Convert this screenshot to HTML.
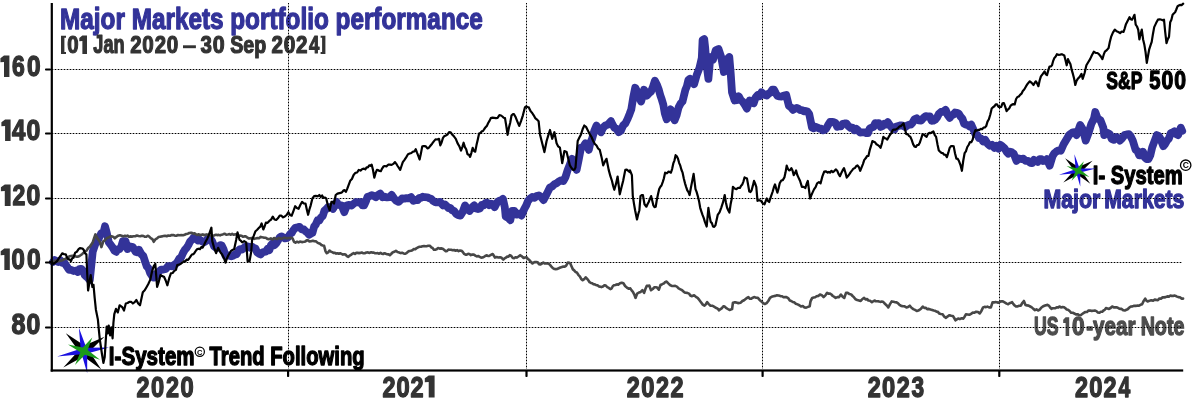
<!DOCTYPE html>
<html><head><meta charset="utf-8"><style>
html,body{margin:0;padding:0;background:#fff;width:1193px;height:406px;overflow:hidden}
svg{display:block} svg{will-change:transform}
</style></head><body><svg width="1193" height="406" viewBox="0 0 1193 406"><rect x="0" y="0" width="1193" height="406" fill="#fff"/><line x1="52" y1="69.5" x2="1182" y2="69.5" stroke="#a8a8a8" stroke-width="1"/><line x1="52" y1="133.5" x2="1182" y2="133.5" stroke="#a8a8a8" stroke-width="1"/><line x1="52" y1="198.5" x2="1182" y2="198.5" stroke="#a8a8a8" stroke-width="1"/><line x1="52" y1="262.5" x2="1182" y2="262.5" stroke="#a8a8a8" stroke-width="1"/><line x1="52" y1="327.5" x2="1182" y2="327.5" stroke="#a8a8a8" stroke-width="1"/><line x1="288.5" y1="3" x2="288.5" y2="369" stroke="#a8a8a8" stroke-width="1"/><line x1="526.5" y1="3" x2="526.5" y2="369" stroke="#a8a8a8" stroke-width="1"/><line x1="762.5" y1="3" x2="762.5" y2="369" stroke="#a8a8a8" stroke-width="1"/><line x1="999.5" y1="3" x2="999.5" y2="369" stroke="#a8a8a8" stroke-width="1"/><text x="60.12" y="28.55" font-size="29.94" textLength="422.66" lengthAdjust="spacingAndGlyphs" fill="#333399" stroke="#333399" stroke-width="1.3" stroke-linejoin="round" font-family="Liberation Sans, sans-serif" font-weight="bold">Major Markets portfolio performance</text><polygon points="82.38,35.50 87.00,35.50 87.00,54.00 82.38,54.00 82.38,41.05 79.30,41.23 79.30,37.91" fill="#333333"/><text x="67.29" y="53.40" font-size="24.78" textLength="11.34" lengthAdjust="spacingAndGlyphs" fill="#333333" stroke="#333333" stroke-width="1.2" stroke-linejoin="round" font-family="Liberation Sans, sans-serif" font-weight="bold">0</text><text x="93.33" y="53.40" font-size="25.15" textLength="31.20" lengthAdjust="spacingAndGlyphs" fill="#333333" stroke="#333333" stroke-width="1.2" stroke-linejoin="round" font-family="Liberation Sans, sans-serif" font-weight="bold">Jan</text><text x="130.19" y="53.40" font-size="24.78" textLength="11.34" lengthAdjust="spacingAndGlyphs" fill="#333333" stroke="#333333" stroke-width="1.2" stroke-linejoin="round" font-family="Liberation Sans, sans-serif" font-weight="bold">2</text><text x="142.31" y="53.40" font-size="24.78" textLength="11.48" lengthAdjust="spacingAndGlyphs" fill="#333333" stroke="#333333" stroke-width="1.2" stroke-linejoin="round" font-family="Liberation Sans, sans-serif" font-weight="bold">0</text><text x="154.65" y="53.40" font-size="24.78" textLength="11.34" lengthAdjust="spacingAndGlyphs" fill="#333333" stroke="#333333" stroke-width="1.2" stroke-linejoin="round" font-family="Liberation Sans, sans-serif" font-weight="bold">2</text><text x="166.77" y="53.40" font-size="24.78" textLength="11.48" lengthAdjust="spacingAndGlyphs" fill="#333333" stroke="#333333" stroke-width="1.2" stroke-linejoin="round" font-family="Liberation Sans, sans-serif" font-weight="bold">0</text><rect x="183" y="45.3" width="12.9" height="2.9" fill="#333333"/><text x="200.43" y="53.40" font-size="24.78" textLength="11.38" lengthAdjust="spacingAndGlyphs" fill="#333333" stroke="#333333" stroke-width="1.2" stroke-linejoin="round" font-family="Liberation Sans, sans-serif" font-weight="bold">3</text><text x="212.68" y="53.40" font-size="24.78" textLength="11.90" lengthAdjust="spacingAndGlyphs" fill="#333333" stroke="#333333" stroke-width="1.2" stroke-linejoin="round" font-family="Liberation Sans, sans-serif" font-weight="bold">0</text><text x="230.23" y="53.40" font-size="24.78" textLength="36.07" lengthAdjust="spacingAndGlyphs" fill="#333333" stroke="#333333" stroke-width="1.2" stroke-linejoin="round" font-family="Liberation Sans, sans-serif" font-weight="bold">Sep</text><text x="271.38" y="53.40" font-size="24.78" textLength="11.47" lengthAdjust="spacingAndGlyphs" fill="#333333" stroke="#333333" stroke-width="1.2" stroke-linejoin="round" font-family="Liberation Sans, sans-serif" font-weight="bold">2</text><text x="283.63" y="53.40" font-size="24.78" textLength="11.61" lengthAdjust="spacingAndGlyphs" fill="#333333" stroke="#333333" stroke-width="1.2" stroke-linejoin="round" font-family="Liberation Sans, sans-serif" font-weight="bold">0</text><text x="296.10" y="53.40" font-size="24.78" textLength="11.47" lengthAdjust="spacingAndGlyphs" fill="#333333" stroke="#333333" stroke-width="1.2" stroke-linejoin="round" font-family="Liberation Sans, sans-serif" font-weight="bold">2</text><text x="308.89" y="53.40" font-size="24.78" textLength="10.31" lengthAdjust="spacingAndGlyphs" fill="#333333" stroke="#333333" stroke-width="1.2" stroke-linejoin="round" font-family="Liberation Sans, sans-serif" font-weight="bold">4</text><path d="M61,35.8 H66 V37.8 H64.4 V51.9 H66 V53.9 H61 Z" fill="#333333"/><path d="M325.4,35.8 H320.6 V37.8 H322.1 V51.9 H320.6 V53.9 H325.4 Z" fill="#333333"/><polygon points="4.00,55.50 9.40,55.50 9.40,77.10 4.00,77.10 4.00,61.98 0.40,62.20 0.40,58.31" fill="#333333"/><text x="12.06" y="76.40" font-size="28.93" textLength="12.77" lengthAdjust="spacingAndGlyphs" fill="#333333" stroke="#333333" stroke-width="1.4" stroke-linejoin="round" font-family="Liberation Sans, sans-serif" font-weight="bold">6</text><text x="27.04" y="76.40" font-size="28.93" textLength="13.57" lengthAdjust="spacingAndGlyphs" fill="#333333" stroke="#333333" stroke-width="1.4" stroke-linejoin="round" font-family="Liberation Sans, sans-serif" font-weight="bold">0</text><polygon points="5.08,119.50 10.60,119.50 10.60,141.10 5.08,141.10 5.08,125.98 1.40,126.20 1.40,122.31" fill="#333333"/><text x="11.94" y="140.40" font-size="28.93" textLength="13.39" lengthAdjust="spacingAndGlyphs" fill="#333333" stroke="#333333" stroke-width="1.4" stroke-linejoin="round" font-family="Liberation Sans, sans-serif" font-weight="bold">4</text><text x="26.62" y="140.40" font-size="28.93" textLength="13.80" lengthAdjust="spacingAndGlyphs" fill="#333333" stroke="#333333" stroke-width="1.4" stroke-linejoin="round" font-family="Liberation Sans, sans-serif" font-weight="bold">0</text><polygon points="4.78,184.50 10.60,184.50 10.60,206.10 4.78,206.10 4.78,190.98 0.90,191.20 0.90,187.31" fill="#333333"/><text x="12.40" y="205.40" font-size="28.93" textLength="12.82" lengthAdjust="spacingAndGlyphs" fill="#333333" stroke="#333333" stroke-width="1.4" stroke-linejoin="round" font-family="Liberation Sans, sans-serif" font-weight="bold">2</text><text x="26.62" y="205.40" font-size="28.93" textLength="13.80" lengthAdjust="spacingAndGlyphs" fill="#333333" stroke="#333333" stroke-width="1.4" stroke-linejoin="round" font-family="Liberation Sans, sans-serif" font-weight="bold">0</text><polygon points="4.34,248.50 9.80,248.50 9.80,270.10 4.34,270.10 4.34,254.98 0.70,255.20 0.70,251.31" fill="#333333"/><text x="11.55" y="269.40" font-size="28.93" textLength="13.33" lengthAdjust="spacingAndGlyphs" fill="#333333" stroke="#333333" stroke-width="1.4" stroke-linejoin="round" font-family="Liberation Sans, sans-serif" font-weight="bold">0</text><text x="26.93" y="269.40" font-size="28.93" textLength="13.68" lengthAdjust="spacingAndGlyphs" fill="#333333" stroke="#333333" stroke-width="1.4" stroke-linejoin="round" font-family="Liberation Sans, sans-serif" font-weight="bold">0</text><text x="11.50" y="334.40" font-size="28.93" textLength="13.97" lengthAdjust="spacingAndGlyphs" fill="#333333" stroke="#333333" stroke-width="1.4" stroke-linejoin="round" font-family="Liberation Sans, sans-serif" font-weight="bold">8</text><text x="26.62" y="334.40" font-size="28.93" textLength="13.80" lengthAdjust="spacingAndGlyphs" fill="#333333" stroke="#333333" stroke-width="1.4" stroke-linejoin="round" font-family="Liberation Sans, sans-serif" font-weight="bold">0</text><text x="136.49" y="396.80" font-size="29.65" textLength="13.05" lengthAdjust="spacingAndGlyphs" fill="#333333" stroke="#333333" stroke-width="1.4" stroke-linejoin="round" font-family="Liberation Sans, sans-serif" font-weight="bold">2</text><text x="151.06" y="396.80" font-size="29.65" textLength="13.21" lengthAdjust="spacingAndGlyphs" fill="#333333" stroke="#333333" stroke-width="1.4" stroke-linejoin="round" font-family="Liberation Sans, sans-serif" font-weight="bold">0</text><text x="165.89" y="396.80" font-size="29.65" textLength="13.05" lengthAdjust="spacingAndGlyphs" fill="#333333" stroke="#333333" stroke-width="1.4" stroke-linejoin="round" font-family="Liberation Sans, sans-serif" font-weight="bold">2</text><text x="180.46" y="396.80" font-size="29.65" textLength="13.21" lengthAdjust="spacingAndGlyphs" fill="#333333" stroke="#333333" stroke-width="1.4" stroke-linejoin="round" font-family="Liberation Sans, sans-serif" font-weight="bold">0</text><text x="382.49" y="396.80" font-size="29.65" textLength="13.05" lengthAdjust="spacingAndGlyphs" fill="#333333" stroke="#333333" stroke-width="1.4" stroke-linejoin="round" font-family="Liberation Sans, sans-serif" font-weight="bold">2</text><text x="396.43" y="396.80" font-size="29.65" textLength="13.21" lengthAdjust="spacingAndGlyphs" fill="#333333" stroke="#333333" stroke-width="1.4" stroke-linejoin="round" font-family="Liberation Sans, sans-serif" font-weight="bold">0</text><text x="410.62" y="396.80" font-size="29.65" textLength="13.05" lengthAdjust="spacingAndGlyphs" fill="#333333" stroke="#333333" stroke-width="1.4" stroke-linejoin="round" font-family="Liberation Sans, sans-serif" font-weight="bold">2</text><polygon points="428.72,375.40 434.60,375.40 434.60,397.50 428.72,397.50 428.72,382.03 424.80,382.25 424.80,378.27" fill="#333333"/><text x="626.69" y="396.80" font-size="29.65" textLength="13.05" lengthAdjust="spacingAndGlyphs" fill="#333333" stroke="#333333" stroke-width="1.4" stroke-linejoin="round" font-family="Liberation Sans, sans-serif" font-weight="bold">2</text><text x="641.16" y="396.80" font-size="29.65" textLength="13.21" lengthAdjust="spacingAndGlyphs" fill="#333333" stroke="#333333" stroke-width="1.4" stroke-linejoin="round" font-family="Liberation Sans, sans-serif" font-weight="bold">0</text><text x="655.89" y="396.80" font-size="29.65" textLength="13.05" lengthAdjust="spacingAndGlyphs" fill="#333333" stroke="#333333" stroke-width="1.4" stroke-linejoin="round" font-family="Liberation Sans, sans-serif" font-weight="bold">2</text><text x="670.49" y="396.80" font-size="29.65" textLength="13.05" lengthAdjust="spacingAndGlyphs" fill="#333333" stroke="#333333" stroke-width="1.4" stroke-linejoin="round" font-family="Liberation Sans, sans-serif" font-weight="bold">2</text><text x="867.69" y="396.80" font-size="29.65" textLength="13.05" lengthAdjust="spacingAndGlyphs" fill="#333333" stroke="#333333" stroke-width="1.4" stroke-linejoin="round" font-family="Liberation Sans, sans-serif" font-weight="bold">2</text><text x="882.06" y="396.80" font-size="29.65" textLength="13.21" lengthAdjust="spacingAndGlyphs" fill="#333333" stroke="#333333" stroke-width="1.4" stroke-linejoin="round" font-family="Liberation Sans, sans-serif" font-weight="bold">0</text><text x="896.69" y="396.80" font-size="29.65" textLength="13.05" lengthAdjust="spacingAndGlyphs" fill="#333333" stroke="#333333" stroke-width="1.4" stroke-linejoin="round" font-family="Liberation Sans, sans-serif" font-weight="bold">2</text><text x="911.48" y="396.80" font-size="29.65" textLength="12.64" lengthAdjust="spacingAndGlyphs" fill="#333333" stroke="#333333" stroke-width="1.4" stroke-linejoin="round" font-family="Liberation Sans, sans-serif" font-weight="bold">3</text><text x="1074.89" y="396.80" font-size="29.65" textLength="13.05" lengthAdjust="spacingAndGlyphs" fill="#333333" stroke="#333333" stroke-width="1.4" stroke-linejoin="round" font-family="Liberation Sans, sans-serif" font-weight="bold">2</text><text x="1089.13" y="396.80" font-size="29.65" textLength="13.21" lengthAdjust="spacingAndGlyphs" fill="#333333" stroke="#333333" stroke-width="1.4" stroke-linejoin="round" font-family="Liberation Sans, sans-serif" font-weight="bold">0</text><text x="1103.62" y="396.80" font-size="29.65" textLength="13.05" lengthAdjust="spacingAndGlyphs" fill="#333333" stroke="#333333" stroke-width="1.4" stroke-linejoin="round" font-family="Liberation Sans, sans-serif" font-weight="bold">2</text><text x="1118.48" y="396.80" font-size="29.65" textLength="11.73" lengthAdjust="spacingAndGlyphs" fill="#333333" stroke="#333333" stroke-width="1.4" stroke-linejoin="round" font-family="Liberation Sans, sans-serif" font-weight="bold">4</text><text x="1106.24" y="88.65" font-size="24.56" textLength="36.21" lengthAdjust="spacingAndGlyphs" fill="#000" stroke="#000" stroke-width="1.3" stroke-linejoin="round" font-family="Liberation Sans, sans-serif" font-weight="bold">S&amp;P</text><text x="1149.13" y="88.95" font-size="25.06" textLength="11.25" lengthAdjust="spacingAndGlyphs" fill="#000" stroke="#000" stroke-width="1.3" stroke-linejoin="round" font-family="Liberation Sans, sans-serif" font-weight="bold">5</text><text x="1161.53" y="88.95" font-size="25.06" textLength="11.77" lengthAdjust="spacingAndGlyphs" fill="#000" stroke="#000" stroke-width="1.3" stroke-linejoin="round" font-family="Liberation Sans, sans-serif" font-weight="bold">0</text><text x="1174.15" y="88.95" font-size="25.06" textLength="11.77" lengthAdjust="spacingAndGlyphs" fill="#000" stroke="#000" stroke-width="1.3" stroke-linejoin="round" font-family="Liberation Sans, sans-serif" font-weight="bold">0</text><text x="1092.80" y="184.15" font-size="25.58" textLength="89.80" lengthAdjust="spacingAndGlyphs" fill="#000" stroke="#000" stroke-width="1.3" stroke-linejoin="round" font-family="Liberation Sans, sans-serif" font-weight="bold">I- System</text><circle cx="1185.7" cy="165.2" r="5.2" fill="none" stroke="#000" stroke-width="1.3"/><text x="1185.7" y="168.3" font-size="8.5" text-anchor="middle" font-family="Liberation Sans, sans-serif" font-weight="bold">C</text><text x="1043.42" y="207.85" font-size="25.44" textLength="56.95" lengthAdjust="spacingAndGlyphs" fill="#333399" stroke="#333399" stroke-width="1.3" stroke-linejoin="round" font-family="Liberation Sans, sans-serif" font-weight="bold">Major</text><text x="1104.23" y="207.85" font-size="25.44" textLength="80.09" lengthAdjust="spacingAndGlyphs" fill="#333399" stroke="#333399" stroke-width="1.3" stroke-linejoin="round" font-family="Liberation Sans, sans-serif" font-weight="bold">Markets</text><text x="1033.89" y="335.25" font-size="25.15" textLength="24.55" lengthAdjust="spacingAndGlyphs" fill="#4d4d4d" stroke="#4d4d4d" stroke-width="1.3" stroke-linejoin="round" font-family="Liberation Sans, sans-serif" font-weight="bold">US</text><polygon points="1065.60,317.30 1069.20,317.30 1069.20,335.90 1065.60,335.90 1065.60,322.88 1063.20,323.07 1063.20,319.72" fill="#4d4d4d"/><text x="1071.95" y="335.45" font-size="25.35" textLength="12.63" lengthAdjust="spacingAndGlyphs" fill="#4d4d4d" stroke="#4d4d4d" stroke-width="1.3" stroke-linejoin="round" font-family="Liberation Sans, sans-serif" font-weight="bold">0</text><text x="1086.14" y="335.25" font-size="25.15" textLength="49.32" lengthAdjust="spacingAndGlyphs" fill="#4d4d4d" stroke="#4d4d4d" stroke-width="1.3" stroke-linejoin="round" font-family="Liberation Sans, sans-serif" font-weight="bold">-year</text><text x="1140.63" y="335.25" font-size="25.15" textLength="43.79" lengthAdjust="spacingAndGlyphs" fill="#4d4d4d" stroke="#4d4d4d" stroke-width="1.3" stroke-linejoin="round" font-family="Liberation Sans, sans-serif" font-weight="bold">Note</text><text x="108.87" y="365.05" font-size="25.29" textLength="85.75" lengthAdjust="spacingAndGlyphs" fill="#000" stroke="#000" stroke-width="1.3" stroke-linejoin="round" font-family="Liberation Sans, sans-serif" font-weight="bold">I-System</text><circle cx="199.8" cy="351.8" r="4.6" fill="none" stroke="#000" stroke-width="1.2"/><text x="199.8" y="354.6" font-size="7.5" text-anchor="middle" font-family="Liberation Sans, sans-serif" font-weight="bold">C</text><text x="209.62" y="365.15" font-size="25.29" textLength="154.97" lengthAdjust="spacingAndGlyphs" fill="#000" stroke="#000" stroke-width="1.3" stroke-linejoin="round" font-family="Liberation Sans, sans-serif" font-weight="bold">Trend Following</text><polygon points="65.80,333.30 84.45,345.52 104.50,336.70 89.47,351.57 101.30,369.40 83.61,356.49 63.30,367.50 78.51,350.73" fill="#000"/><polygon points="78.90,327.80 86.29,347.72 109.00,347.60 87.19,353.41 87.20,373.20 81.70,354.28 57.10,356.60 80.64,348.83" fill="#1a10e0"/><polygon points="92.30,337.40 87.67,350.02 100.00,359.80 84.93,354.68 75.00,364.90 80.37,352.13 68.00,344.40 82.82,347.39" fill="#1a9a1a"/><polygon points="1065.08,158.23 1078.32,166.91 1092.56,160.65 1081.88,171.20 1090.28,183.86 1077.72,174.69 1063.30,182.52 1074.10,170.61" fill="#000"/><polygon points="1074.38,154.33 1079.63,168.47 1095.75,168.39 1080.27,172.51 1080.27,186.56 1076.37,173.13 1058.90,174.78 1075.62,169.26" fill="#1a10e0"/><polygon points="1083.89,161.14 1080.61,170.11 1089.36,177.05 1078.66,173.42 1071.61,180.67 1075.42,171.60 1066.64,166.11 1077.16,168.24" fill="#1a9a1a"/><line x1="52" y1="69.5" x2="1182" y2="69.5" stroke="#000" stroke-width="1" stroke-dasharray="1 2"/><line x1="52" y1="133.5" x2="1182" y2="133.5" stroke="#000" stroke-width="1" stroke-dasharray="1 2"/><line x1="52" y1="198.5" x2="1182" y2="198.5" stroke="#000" stroke-width="1" stroke-dasharray="1 2"/><line x1="52" y1="262.5" x2="1182" y2="262.5" stroke="#000" stroke-width="1" stroke-dasharray="1 2"/><line x1="52" y1="327.5" x2="1182" y2="327.5" stroke="#000" stroke-width="1" stroke-dasharray="1 2"/><line x1="288.5" y1="3" x2="288.5" y2="369" stroke="#000" stroke-width="1" stroke-dasharray="1 2"/><line x1="526.5" y1="3" x2="526.5" y2="369" stroke="#000" stroke-width="1" stroke-dasharray="1 2"/><line x1="762.5" y1="3" x2="762.5" y2="369" stroke="#000" stroke-width="1" stroke-dasharray="1 2"/><line x1="999.5" y1="3" x2="999.5" y2="369" stroke="#000" stroke-width="1" stroke-dasharray="1 2"/><polyline points="53.0,262.0 54.5,260.0 56.0,261.0 58.2,262.0 60.5,260.3 62.2,262.8 64.0,262.3 65.7,264.7 67.4,267.2 69.1,269.8 71.4,269.9 73.7,271.0 76.0,270.7 77.8,271.9 79.5,269.1 81.2,268.8 83.0,270.7 84.7,275.0 86.4,276.7 88.1,278.2 89.8,280.2 92.7,251.8 95.4,243.8 97.4,241.5 99.4,237.1 101.4,233.1 103.4,233.0 105.0,226.3 106.8,233.0 108.8,242.4 110.8,244.9 112.8,247.8 114.5,250.7 116.2,251.8 117.8,249.4 119.5,249.1 121.2,246.9 122.9,241.1 125.5,241.1 127.6,249.1 130.2,246.5 132.9,247.1 135.6,251.8 137.3,252.4 139.0,249.8 141.6,254.5 143.3,256.0 145.0,261.2 146.7,266.4 148.4,268.0 150.2,273.3 151.9,275.6 153.6,277.6 155.3,277.4 157.1,273.1 158.8,271.6 161.1,269.6 163.4,269.6 165.7,269.0 168.0,266.2 170.3,266.2 172.6,266.4 174.2,264.9 175.8,263.9 177.6,261.6 179.4,258.4 181.2,257.2 183.0,253.0 184.8,249.8 186.6,247.8 188.4,245.0 190.1,241.6 191.9,239.8 193.9,237.2 196.0,238.4 198.0,240.5 200.0,239.8 202.0,241.3 204.0,242.4 206.0,241.0 208.0,238.4 210.1,238.5 212.1,241.1 214.1,246.4 216.1,247.8 218.1,247.9 220.1,245.1 221.8,245.6 223.5,249.1 225.5,255.8 227.5,255.1 229.5,255.8 231.3,256.3 233.0,255.8 234.8,254.5 236.6,254.4 238.4,250.6 240.2,249.1 242.0,249.6 243.8,248.0 245.6,246.5 247.8,246.4 250.0,247.8 252.1,246.7 253.8,247.9 255.5,248.4 257.2,252.5 259.0,253.6 260.7,254.4 262.4,252.5 264.1,251.9 265.8,251.7 267.6,248.9 269.3,250.2 271.0,245.0 272.7,243.4 274.5,245.1 276.2,243.3 277.9,240.7 279.7,237.4 281.4,236.4 283.1,237.2 284.9,238.3 286.6,238.1 288.3,237.1 290.0,234.1 291.7,232.9 293.4,230.1 295.2,227.8 297.4,227.4 299.5,226.9 301.6,229.3 303.8,229.5 305.5,231.3 307.3,232.5 309.0,234.7 310.7,233.8 312.4,232.9 314.1,226.7 315.9,224.3 317.6,220.2 319.3,220.5 321.0,217.4 322.8,215.9 324.5,210.5 326.2,209.2 327.9,207.1 329.6,207.2 331.4,206.9 333.1,208.8 334.9,205.4 336.6,201.9 338.3,205.0 340.0,205.2 341.7,205.3 344.3,212.2 346.9,205.3 349.2,204.9 351.5,205.6 353.8,203.6 356.1,202.0 358.4,202.5 360.7,201.9 362.4,205.4 364.1,205.3 365.9,201.3 367.6,196.7 369.7,196.2 371.7,195.1 373.8,195.9 375.8,197.2 377.9,195.0 380.2,193.6 382.5,197.3 384.8,196.7 387.1,197.4 389.4,197.1 391.7,195.0 394.0,198.3 396.3,200.8 398.6,201.9 400.4,200.2 402.1,198.4 404.4,198.6 406.7,198.1 409.0,198.4 411.1,197.1 413.3,200.8 415.5,200.0 417.6,200.2 419.3,197.8 421.1,197.9 422.8,196.7 425.1,197.2 427.4,197.3 429.7,198.4 431.4,199.0 433.1,200.9 434.8,201.9 436.5,202.4 438.3,202.3 440.0,201.9 441.5,203.5 443.0,205.4 444.8,204.4 446.7,206.2 448.5,208.2 450.3,207.8 452.2,210.3 454.0,210.9 456.2,213.9 458.3,215.2 460.5,215.6 462.8,211.7 465.1,205.4 467.4,209.4 469.7,210.9 472.0,207.2 474.3,205.4 476.1,208.6 478.0,209.1 479.9,208.6 481.7,205.0 483.6,205.4 485.4,203.0 487.2,202.6 489.1,205.1 490.9,203.6 492.8,204.4 494.6,207.2 497.0,202.4 499.3,200.8 501.1,200.3 502.9,198.9 504.8,207.2 505.7,216.5 508.0,217.7 510.3,220.2 512.2,210.9 514.5,211.0 516.8,214.6 519.1,213.7 521.4,215.6 524.2,209.1 526.1,205.7 528.1,200.8 530.0,198.7 532.2,197.0 534.5,197.9 536.7,196.0 538.9,195.4 541.2,197.0 543.6,200.0 545.7,195.9 547.7,192.0 549.9,187.5 552.2,186.4 554.4,184.3 556.6,183.2 558.8,181.4 561.1,180.3 563.3,181.0 565.5,177.0 567.7,169.9 569.9,164.4 572.1,158.8 574.4,163.2 576.6,169.9 578.8,159.2 581.0,147.7 583.2,146.8 585.4,143.3 587.1,144.7 588.8,149.9 590.5,142.4 592.1,138.8 594.3,130.7 596.5,125.5 598.8,129.7 601.0,132.2 603.2,127.5 605.4,125.5 607.2,124.9 609.1,123.3 610.9,121.1 612.6,124.6 614.3,127.7 616.5,128.8 618.7,132.2 620.9,130.8 623.1,125.5 625.4,123.4 627.6,118.9 629.5,114.2 631.3,109.4 633.2,97.6 635.2,87.7 636.7,90.5 638.2,95.6 641.1,101.5 642.6,96.2 644.1,89.7 647.0,95.6 649.0,93.2 651.0,91.7 653.0,86.6 654.9,80.8 656.8,84.5 658.8,89.7 660.3,95.2 661.8,99.6 663.3,104.7 664.8,113.3 666.7,119.3 668.7,113.5 670.7,109.4 672.7,116.7 674.6,120.2 676.6,115.3 678.6,107.4 680.5,103.7 682.5,101.5 685.4,89.7 686.9,86.2 688.4,79.9 690.0,78.8 692.0,80.7 694.1,84.2 696.8,74.7 699.5,67.9 701.8,58.0 702.6,40.0 704.2,39.0 705.2,48.0 706.3,62.5 708.4,78.8 710.3,57.1 713.0,59.8 715.7,50.3 718.5,49.0 721.2,57.1 723.9,72.0 726.6,59.8 729.3,57.1 730.7,73.4 732.0,92.3 734.7,100.5 736.8,100.2 738.8,96.4 740.8,100.1 742.8,101.8 744.8,104.9 746.9,108.6 749.6,100.5 751.7,100.9 753.7,103.2 755.8,97.1 757.8,95.0 759.6,96.1 761.4,92.3 763.2,93.7 765.0,95.0 766.8,95.5 768.6,93.7 770.4,92.6 772.2,89.7 774.0,89.6 775.8,93.3 777.6,96.0 779.4,96.4 781.7,96.7 783.9,95.5 786.2,95.0 788.9,105.9 791.0,107.4 793.0,109.9 794.8,108.9 796.6,107.9 798.4,108.6 800.2,110.2 802.0,110.1 803.8,111.3 805.6,111.0 807.4,111.5 809.2,114.0 812.0,127.6 813.8,128.3 815.6,126.8 817.4,127.6 819.2,128.5 821.0,128.7 822.8,130.3 824.6,130.0 826.4,128.3 828.2,124.9 830.0,122.0 831.8,121.8 833.6,122.1 835.4,122.8 837.2,126.8 839.0,126.2 840.8,126.4 842.7,123.8 844.5,123.5 846.5,123.4 848.5,126.2 850.6,127.9 852.6,127.6 854.4,130.2 856.2,128.8 858.0,130.3 860.0,132.5 862.1,132.4 864.2,132.3 866.2,133.0 868.0,133.1 869.8,128.3 871.6,127.6 873.4,127.1 875.2,123.2 877.0,123.5 878.8,123.1 880.6,126.9 882.4,126.2 884.2,123.7 886.0,124.5 887.8,122.1 890.3,125.9 892.8,128.8 894.6,129.3 896.4,126.5 898.2,126.1 900.0,125.5 901.8,125.3 903.6,126.1 905.4,127.1 907.2,125.6 909.0,124.7 910.8,124.7 912.6,122.6 914.4,119.3 916.7,118.3 918.9,120.4 921.2,120.7 923.5,117.8 925.7,116.1 928.0,116.6 929.8,116.3 931.6,120.8 933.4,120.7 935.2,119.6 937.0,117.5 938.8,113.9 941.1,111.9 943.3,111.6 945.6,109.8 947.7,115.0 949.7,117.9 951.5,115.6 953.3,114.6 955.1,112.5 956.9,112.8 958.7,113.6 960.5,116.6 962.3,118.4 964.1,123.6 965.9,124.7 967.7,125.0 969.5,126.4 971.3,124.7 973.3,129.3 975.4,134.2 977.2,134.7 979.0,138.1 980.8,138.3 983.1,141.4 985.3,139.9 987.6,143.7 989.9,145.7 992.1,144.8 994.4,147.8 996.4,145.9 998.5,148.6 1000.5,144.9 1002.5,146.4 1004.5,148.1 1006.6,151.8 1008.3,153.7 1010.0,151.7 1011.9,152.3 1013.7,153.6 1016.5,160.9 1018.8,158.5 1021.1,159.1 1023.4,158.7 1025.7,160.9 1028.0,160.8 1030.3,162.8 1032.2,163.1 1034.0,159.9 1035.9,160.9 1037.7,161.9 1039.6,159.2 1041.4,159.1 1043.2,161.0 1045.1,160.7 1046.9,159.1 1049.7,165.6 1052.5,156.3 1054.3,153.2 1056.2,151.7 1058.5,150.3 1060.8,150.8 1063.6,144.3 1066.3,139.7 1069.1,135.1 1070.9,133.6 1072.8,132.3 1074.7,132.1 1076.5,135.1 1078.3,130.6 1080.2,124.9 1082.9,129.5 1085.7,140.6 1088.5,133.2 1091.3,124.0 1094.0,118.5 1095.3,112.0 1097.7,118.5 1100.5,120.3 1103.3,127.7 1104.2,135.1 1106.1,132.3 1107.9,133.2 1109.8,134.0 1111.6,138.8 1113.9,139.8 1116.2,136.9 1118.1,137.9 1119.9,140.6 1122.2,138.2 1124.5,135.1 1126.8,134.4 1129.1,134.2 1130.9,136.7 1132.8,140.6 1135.6,149.9 1137.4,150.9 1139.3,155.4 1141.2,155.2 1143.0,151.7 1144.8,157.3 1146.7,159.1 1148.5,159.1 1150.3,155.4 1152.2,147.4 1154.0,142.5 1156.8,135.1 1158.7,135.8 1160.5,138.8 1163.3,146.2 1165.2,143.9 1167.0,140.6 1168.8,138.8 1170.7,133.2 1172.6,132.5 1174.4,131.4 1176.2,134.0 1178.1,135.1 1180.8,127.7 1182.2,131.0" fill="none" stroke="#333399" stroke-width="7.8" stroke-linejoin="round" stroke-linecap="round"/><polyline points="50.2,262.0 51.7,262.4 53.2,262.2 54.7,260.7 56.2,260.6 57.7,261.4 59.2,261.1 60.7,260.8 62.2,260.3 63.7,259.3 65.1,259.0 66.6,258.3 68.0,257.5 69.5,256.2 70.9,256.0 72.3,255.9 73.8,255.9 75.2,256.3 76.6,256.7 78.1,256.6 79.5,256.0 80.9,255.0 82.3,253.9 83.6,252.6 85.0,251.3 86.4,250.9 88.2,248.0 90.0,246.5 91.3,244.4 92.7,242.4 94.1,238.1 95.4,234.4 97.4,238.4 98.8,240.2 100.1,242.4 101.4,247.1 103.4,241.1 104.7,240.5 106.1,238.9 107.4,237.7 108.8,237.4 110.1,236.5 111.5,236.4 113.2,236.7 114.8,238.4 116.5,236.8 118.2,235.7 119.9,235.2 121.6,235.7 123.2,236.4 124.9,235.7 126.2,236.1 127.5,235.6 128.9,236.8 130.2,236.4 131.9,236.6 133.6,236.3 135.2,236.3 136.9,235.5 138.6,236.0 140.2,236.2 141.9,235.7 143.6,236.0 144.9,236.8 146.3,236.8 147.7,235.8 149.0,236.4 150.7,238.1 152.4,239.1 153.7,241.8 155.7,239.1 157.1,238.4 158.4,237.1 160.1,236.7 161.8,236.4 163.4,236.0 165.1,235.7 166.7,236.2 168.3,235.5 170.0,235.8 171.6,235.0 173.2,235.1 174.8,235.6 176.4,235.7 178.0,235.0 179.6,235.2 181.2,235.1 182.9,235.3 184.6,234.7 186.2,234.0 187.9,233.7 189.2,233.0 190.6,232.9 191.9,232.8 193.3,233.6 194.6,233.4 196.0,234.4 197.3,235.0 198.7,234.2 200.0,235.2 201.3,234.7 202.7,234.4 204.0,235.2 205.3,234.8 206.7,234.4 208.0,234.7 209.4,235.1 210.8,235.6 212.1,235.7 213.4,235.7 214.8,235.1 216.1,234.8 217.4,235.1 218.8,234.9 220.1,235.4 221.5,234.7 222.8,234.4 224.5,233.7 226.2,234.7 227.8,234.5 229.5,234.1 230.8,234.7 232.2,233.8 233.5,234.7 234.8,234.4 236.2,234.2 237.5,235.5 238.9,235.7 240.2,235.6 241.6,235.7 242.9,236.8 244.2,236.4 245.6,236.3 247.1,237.4 248.6,238.4 250.0,238.4 251.4,238.0 252.8,238.0 254.3,238.9 255.7,238.4 257.4,238.0 259.0,238.2 260.7,236.9 262.4,237.3 264.1,237.6 265.8,237.7 267.4,238.9 269.1,239.1 270.8,238.4 272.5,239.5 274.1,238.1 275.8,238.7 277.2,239.0 278.5,237.9 279.9,238.2 281.2,238.9 282.6,238.4 283.9,237.8 285.2,237.8 286.6,238.4 287.9,238.1 289.5,238.0 291.0,237.7 292.6,238.4 294.0,241.8 295.5,242.7 297.1,241.7 298.6,242.4 300.0,241.6 301.3,241.9 302.6,242.1 304.0,241.8 305.4,241.4 306.7,240.4 308.0,240.4 309.4,241.4 311.1,241.2 312.8,240.7 314.4,241.3 316.1,241.4 317.4,242.6 318.8,243.3 320.1,243.8 321.4,245.0 322.8,245.5 324.1,245.8 325.5,251.2 326.8,253.2 328.1,252.4 329.5,250.5 330.8,251.6 332.2,252.1 333.5,252.9 334.9,252.7 336.2,253.6 337.5,253.3 338.9,253.8 340.2,253.3 341.5,253.9 342.9,254.6 344.2,254.2 345.6,254.6 346.9,256.1 348.3,256.9 349.6,255.7 351.0,254.9 352.3,253.8 353.6,253.1 355.0,254.0 356.4,252.8 357.7,252.9 359.0,253.1 360.4,252.9 361.7,252.5 363.0,253.2 364.7,253.2 366.4,252.5 368.0,252.4 369.7,252.9 371.1,252.3 372.4,252.6 373.8,252.6 375.1,253.2 376.5,253.3 377.8,253.1 379.1,253.7 380.5,252.9 381.8,253.7 383.1,254.0 384.5,253.2 385.8,253.8 387.1,254.2 388.5,254.4 389.8,255.2 391.1,254.0 392.5,252.5 394.2,251.8 395.9,250.8 397.5,252.1 399.2,252.5 400.6,253.1 402.1,252.8 403.6,253.4 405.0,253.8 406.5,253.1 408.0,251.7 409.4,251.0 410.9,250.8 412.4,250.2 413.8,249.1 415.3,249.3 416.7,248.1 418.1,247.3 419.6,246.8 421.0,246.7 422.5,246.2 424.0,246.0 425.5,246.3 427.0,246.1 428.5,245.7 430.0,245.8 431.3,247.3 432.6,248.0 433.9,249.7 435.2,249.7 436.6,249.3 437.9,248.1 439.5,248.6 441.2,248.4 442.8,248.7 444.3,250.0 445.8,251.3 447.1,250.9 448.4,249.6 449.7,249.7 451.2,249.8 452.6,250.2 454.1,250.0 455.6,250.7 457.1,250.1 458.6,251.1 460.0,250.5 461.5,250.7 462.8,252.0 464.2,253.9 465.5,254.6 466.8,254.6 468.1,253.9 469.4,254.0 470.9,255.1 472.4,254.6 473.8,254.5 475.3,255.6 476.8,256.4 478.2,256.0 479.7,256.8 481.2,257.6 482.5,257.5 483.9,256.8 485.2,256.0 486.5,255.3 487.8,255.9 489.1,256.0 490.9,254.9 492.7,254.0 493.9,255.8 495.0,257.6 496.7,257.1 498.3,257.5 500.0,257.2 501.6,257.8 503.3,259.6 504.6,258.3 505.9,257.6 507.2,256.6 508.5,256.6 509.8,255.2 511.3,256.0 512.8,258.0 514.1,258.2 515.4,257.3 516.7,257.6 518.5,256.5 520.2,255.2 521.9,256.4 523.6,258.0 525.1,257.5 526.6,257.2 527.9,259.0 529.2,259.9 530.5,261.5 532.5,263.5 533.8,262.5 535.1,262.0 536.4,262.1 537.7,262.3 539.0,264.2 540.3,264.5 541.8,263.7 543.3,262.5 544.6,263.5 545.9,263.4 547.2,263.5 548.7,263.6 550.2,265.1 551.7,267.0 553.2,268.4 554.5,269.0 555.8,269.1 557.1,269.0 558.7,268.3 560.4,267.5 562.0,267.0 563.3,266.6 564.7,266.7 566.0,265.9 567.9,262.5 569.1,262.7 570.3,263.5 571.6,266.5 572.9,269.4 574.2,270.4 575.5,272.0 576.8,272.4 578.3,274.8 579.8,276.3 581.2,278.9 582.7,280.2 584.2,279.2 585.7,277.3 587.0,278.6 588.3,280.2 589.6,282.2 590.9,282.9 592.2,283.2 593.5,284.2 594.8,284.4 596.2,285.1 597.5,285.2 598.8,286.4 600.1,286.6 601.4,287.1 602.9,286.6 604.4,285.2 605.8,285.6 607.3,287.1 608.8,287.9 610.3,289.1 611.6,288.5 612.9,286.0 614.2,285.2 615.5,285.0 616.9,284.3 618.2,284.8 620.0,283.3 621.7,282.7 623.4,283.3 625.1,286.0 626.9,287.6 628.6,288.7 630.3,288.4 631.6,290.4 632.9,291.9 634.2,294.4 635.5,297.9 637.2,293.6 639.0,292.5 640.7,291.9 642.4,290.2 644.1,292.8 645.4,289.0 646.7,285.9 648.0,285.9 649.3,285.5 651.0,290.2 652.8,289.0 654.5,287.2 655.8,287.3 657.1,287.6 658.8,289.7 660.5,285.0 662.2,284.2 664.0,283.3 665.3,281.9 666.6,281.6 668.3,283.4 670.0,285.0 671.7,285.9 673.5,286.0 675.2,285.9 676.9,286.6 678.6,288.4 680.4,289.3 682.1,290.2 683.8,291.8 685.5,292.8 687.2,292.9 689.0,293.6 690.3,295.5 691.6,296.2 692.9,295.7 694.1,295.3 695.9,296.9 697.6,297.9 699.3,299.9 701.0,302.2 702.8,304.6 704.5,305.7 705.8,304.3 707.1,302.2 708.8,304.1 710.5,305.7 712.2,305.7 714.0,306.6 715.7,307.8 717.4,308.4 719.1,310.3 720.5,309.1 722.0,308.1 723.4,306.2 724.7,306.6 726.0,307.9 727.8,309.0 729.5,310.0 730.8,309.5 732.1,309.1 732.9,302.8 734.2,302.4 735.5,302.2 737.2,302.9 739.0,303.1 740.7,302.7 742.4,301.0 744.1,300.2 745.9,298.8 747.1,297.9 748.4,297.1 749.7,298.6 751.0,298.8 752.8,297.7 754.5,297.1 756.2,297.8 757.9,297.9 759.6,299.9 761.4,301.4 763.1,303.1 764.8,304.0 766.6,303.1 768.3,301.0 770.0,297.9 771.7,296.7 773.4,296.2 775.1,295.9 776.9,295.3 778.6,295.5 780.4,296.1 782.1,296.2 783.5,297.2 785.0,297.0 786.4,297.1 788.1,298.1 789.8,300.5 791.2,301.0 792.7,301.9 794.1,302.2 795.8,303.7 797.6,304.4 799.3,305.2 801.0,306.4 802.8,306.0 804.5,307.4 806.2,307.6 808.0,306.9 809.7,306.2 810.5,301.4 812.2,297.9 813.7,297.5 815.1,297.3 816.6,296.2 818.3,295.9 820.0,294.5 821.8,295.2 823.6,297.1 825.4,295.4 827.1,292.8 828.5,293.7 830.0,293.5 831.4,294.5 832.8,296.0 834.3,296.9 835.7,297.9 837.4,297.1 839.1,297.1 840.9,294.5 842.6,296.6 844.3,297.9 846.0,292.8 847.7,292.9 849.5,294.1 851.2,294.5 852.6,296.0 854.1,297.4 855.5,299.3 857.2,300.0 859.0,300.4 860.7,301.0 862.4,299.0 864.1,297.9 865.5,299.4 867.0,299.0 868.4,300.5 870.1,300.7 871.9,302.2 873.2,301.3 874.5,300.5 875.9,301.3 877.4,301.3 878.8,301.4 880.2,301.9 881.7,301.6 883.1,301.7 884.4,303.3 885.7,304.5 887.0,305.7 888.3,307.4 890.0,304.1 891.7,301.4 893.5,301.8 895.2,302.2 896.6,302.4 898.1,303.3 899.5,304.8 901.2,305.9 902.9,306.2 904.6,306.3 906.4,307.4 908.1,306.9 909.8,305.7 911.5,307.8 913.3,309.1 915.0,309.9 916.7,310.9 918.0,310.7 919.3,310.0 921.0,308.7 922.8,306.6 924.2,307.9 925.7,307.8 927.1,309.1 928.8,308.9 930.5,309.5 932.2,310.0 933.7,310.5 935.1,310.8 936.6,311.7 937.9,311.9 939.1,313.4 940.9,313.9 942.6,314.3 944.3,316.7 946.0,317.8 947.8,316.3 949.5,315.2 951.2,315.7 952.9,316.0 954.2,318.0 955.5,320.3 956.8,319.4 958.1,318.6 959.8,319.1 961.6,318.3 963.3,318.6 964.6,316.7 965.9,314.3 967.6,314.5 969.3,314.8 971.0,313.8 972.8,312.6 974.5,312.7 976.2,311.7 978.0,312.0 979.7,313.4 981.4,310.9 983.1,307.4 984.5,306.9 986.0,307.1 987.4,306.6 989.1,307.4 990.9,307.4 992.6,302.2 994.0,302.4 995.5,302.1 996.9,302.2 998.2,302.7 999.5,302.2 1001.2,301.2 1002.9,301.4 1005.0,302.6 1006.6,303.6 1008.2,304.2 1009.5,303.3 1010.8,302.8 1012.1,302.1 1013.4,304.1 1014.7,305.5 1016.0,306.5 1017.6,306.4 1019.2,305.7 1020.8,305.7 1022.3,303.0 1023.9,301.0 1025.5,304.9 1027.1,305.4 1028.6,305.6 1030.2,306.5 1031.8,307.4 1033.4,308.9 1035.0,310.1 1036.5,309.4 1038.1,310.5 1039.7,309.6 1041.2,307.7 1042.8,306.5 1044.4,305.8 1045.9,305.2 1047.5,304.9 1048.8,305.6 1050.2,307.5 1051.5,308.9 1052.8,308.2 1054.1,308.3 1055.4,308.1 1056.7,307.3 1058.1,307.6 1059.4,306.5 1061.0,307.4 1062.5,307.0 1064.1,307.3 1065.4,308.3 1066.7,309.5 1068.0,309.7 1069.6,311.0 1071.2,312.8 1072.8,312.8 1074.3,313.5 1075.9,314.4 1077.5,314.2 1079.0,315.2 1080.6,315.2 1082.2,314.0 1083.8,312.9 1085.4,312.0 1087.0,311.9 1088.5,310.6 1090.1,310.5 1091.7,310.9 1093.2,310.7 1094.8,310.5 1096.4,311.1 1097.9,312.5 1099.5,312.8 1100.8,311.8 1102.2,311.8 1103.5,310.5 1104.7,309.9 1105.9,308.1 1107.5,308.5 1109.0,308.9 1110.6,308.0 1112.2,306.5 1113.8,307.4 1115.3,307.4 1116.9,307.3 1118.5,308.2 1120.0,308.9 1121.6,308.9 1123.2,310.3 1124.8,310.5 1126.4,309.8 1127.9,309.0 1129.5,307.3 1131.1,306.5 1132.6,306.4 1134.2,305.7 1135.8,305.9 1137.4,305.5 1139.0,305.7 1140.5,304.8 1142.1,304.2 1143.7,300.9 1145.2,298.6 1146.4,300.7 1147.6,301.5 1148.9,300.9 1150.2,300.6 1151.5,300.2 1153.1,300.7 1154.7,299.6 1156.3,299.9 1157.9,300.1 1159.4,298.5 1161.0,298.6 1162.6,297.4 1164.1,297.4 1165.7,297.1 1167.3,296.4 1168.9,296.6 1170.5,295.5 1171.8,296.0 1173.1,295.9 1174.4,295.5 1175.7,295.9 1177.0,296.6 1178.3,297.1 1179.9,297.2 1181.5,298.6 1183.1,298.6" fill="none" stroke="#474747" stroke-width="2.6" stroke-linejoin="round" stroke-linecap="round"/><polyline points="50.2,262.0 51.9,262.3 53.6,263.8 55.3,262.6 57.0,261.2 58.8,258.3 60.5,256.0 62.2,253.4 64.0,254.1 65.7,254.3 67.0,257.2 68.3,259.5 69.6,259.3 70.9,261.2 72.2,258.3 73.4,257.8 75.2,252.6 76.9,251.7 78.6,249.1 79.9,248.1 81.2,248.3 82.5,248.5 83.8,250.0 85.1,253.3 86.4,254.3 87.2,273.3 88.1,290.5 89.4,282.7 90.7,275.0 92.4,287.0 93.5,284.8 94.7,298.1 95.9,309.7 97.9,319.6 98.8,329.4 99.8,339.3 101.8,353.0 103.4,362.9 104.7,357.0 105.7,341.2 106.7,326.5 107.7,333.3 108.7,325.5 110.1,335.3 111.3,327.4 112.6,338.3 113.4,323.0 114.3,314.2 116.0,308.9 117.8,312.4 119.6,305.3 120.9,306.1 122.2,307.1 124.0,310.6 125.8,303.5 127.6,303.0 129.3,301.8 131.1,301.8 132.9,303.5 134.7,302.1 136.4,300.0 138.2,303.5 140.0,305.3 141.4,298.8 142.8,292.2 144.7,290.3 146.5,287.2 148.3,284.0 150.2,279.9 151.9,272.1 153.6,266.4 155.3,263.8 157.1,287.0 158.8,281.6 160.5,275.0 162.2,276.1 164.0,276.7 165.7,280.5 167.4,285.3 169.2,278.2 170.9,273.3 172.6,273.0 174.3,270.9 176.0,269.8 177.2,265.0 178.9,264.6 180.6,264.0 182.2,262.7 183.9,261.2 185.2,261.5 186.6,259.6 187.9,259.9 189.2,258.5 190.6,256.4 191.9,254.5 193.3,254.2 194.6,252.7 196.0,250.5 197.3,249.1 198.7,248.7 200.0,249.1 201.3,247.1 202.7,247.6 204.0,245.1 205.7,241.6 207.4,238.4 208.7,235.4 210.0,231.7 211.4,227.7 212.3,241.1 214.1,247.8 216.1,253.2 218.1,247.8 220.1,251.8 222.1,254.5 224.1,258.5 225.5,262.6 226.8,258.7 228.1,255.8 229.4,253.5 230.8,251.2 232.5,249.9 234.2,249.1 236.2,239.8 237.5,232.4 239.5,239.8 240.8,240.7 242.2,242.4 244.2,241.1 246.2,242.4 247.6,261.2 249.5,261.4 251.2,251.9 252.1,239.8 253.8,235.7 255.5,231.2 257.2,229.7 259.0,227.8 260.3,226.6 261.6,223.4 263.3,229.5 264.6,226.5 265.9,222.6 267.6,222.8 269.3,220.9 271.1,219.6 272.8,216.6 274.5,219.5 276.2,220.0 277.9,218.3 279.7,215.7 281.4,215.7 283.1,217.4 284.8,216.5 286.6,215.0 288.3,212.2 290.0,214.9 291.7,215.7 293.4,211.1 295.2,206.2 296.9,208.0 298.6,208.8 300.4,204.7 302.1,201.9 303.8,203.5 305.5,203.6 306.8,209.4 308.1,214.8 309.4,209.5 310.7,205.3 312.4,198.4 314.1,196.1 315.9,195.9 317.6,196.3 319.3,195.0 320.7,196.9 322.1,195.4 323.4,197.8 324.8,197.5 326.2,198.4 327.9,205.3 329.7,210.5 331.4,201.9 332.7,201.9 334.0,203.6 335.7,195.0 337.5,193.6 339.4,193.1 340.7,192.9 342.0,192.3 343.3,190.6 344.6,190.1 345.9,191.8 347.2,188.9 348.5,185.4 350.2,180.8 351.9,179.0 353.6,175.0 355.3,172.9 357.1,172.5 358.8,169.9 360.5,170.6 362.3,169.0 364.0,168.6 365.3,169.4 366.6,167.3 367.9,167.3 369.2,165.4 370.4,165.8 371.7,164.7 373.0,170.0 374.3,177.6 375.6,173.0 376.9,169.9 378.2,170.1 379.5,171.0 380.8,171.2 382.1,168.6 383.4,166.6 384.7,166.0 386.4,166.4 388.2,164.7 389.9,164.7 391.6,164.9 393.3,163.9 395.0,162.1 396.3,163.8 397.6,166.0 398.9,167.9 400.2,169.9 401.5,166.0 402.8,162.1 404.5,159.8 406.3,157.1 408.0,154.3 409.7,153.6 411.4,152.9 413.1,151.7 414.4,151.5 415.7,149.2 417.0,152.7 418.3,155.9 419.6,159.5 420.9,153.6 422.2,146.6 423.5,146.0 424.8,146.1 426.1,146.6 427.4,148.4 428.7,147.9 430.4,145.8 432.1,143.7 433.8,141.4 435.5,139.4 437.3,139.5 439.0,138.8 440.3,145.3 441.6,142.5 442.9,138.1 444.2,136.2 445.8,135.5 447.4,134.6 449.1,132.2 450.7,132.3 452.4,134.8 454.1,136.6 455.8,138.8 457.5,143.1 459.3,146.2 461.0,150.5 462.3,147.1 463.6,142.7 464.9,147.1 466.2,149.3 467.5,154.3 468.8,154.5 470.1,156.9 471.4,152.8 472.7,147.9 473.9,150.9 475.2,151.7 476.5,145.1 477.8,139.5 479.1,133.6 480.4,133.0 481.7,131.4 483.0,131.0 484.3,129.0 485.6,127.2 486.9,125.9 488.2,123.0 489.5,120.9 490.8,118.1 492.5,117.6 494.2,117.8 495.9,118.1 497.6,117.9 499.4,115.2 501.1,115.5 502.4,116.5 503.7,117.8 505.0,118.1 506.3,126.0 507.6,134.9 508.9,127.8 510.2,122.7 511.5,115.5 512.8,114.2 514.0,114.2 515.7,117.3 517.5,121.8 519.2,125.9 521.0,121.1 522.9,115.3 524.9,107.4 526.2,106.4 527.5,107.0 528.8,107.4 530.8,111.4 532.2,113.0 533.7,115.3 535.2,118.1 536.7,119.3 538.6,121.2 540.0,134.4 542.2,143.3 544.4,152.1 546.6,141.0 548.3,135.4 550.0,130.0 552.2,138.8 554.4,132.2 556.6,143.3 558.2,146.4 559.9,147.7 561.0,154.7 562.2,163.2 564.4,151.0 566.6,152.1 568.2,158.4 569.9,165.4 571.5,168.0 573.2,169.9 574.4,169.7 575.5,167.6 577.7,141.0 579.4,137.6 581.0,134.4 582.6,129.3 584.3,125.5 586.0,126.8 587.6,130.0 588.8,132.3 589.9,134.4 591.5,137.0 593.2,141.0 594.9,144.0 596.5,145.5 598.1,148.5 599.8,149.9 601.5,156.9 603.2,165.4 604.9,161.6 606.5,158.8 608.7,169.9 610.4,176.2 612.0,181.0 613.1,185.7 614.3,189.8 616.0,183.9 617.6,176.5 619.8,194.3 621.5,187.3 623.1,181.0 625.3,169.9 626.8,169.7 628.3,170.9 629.8,172.1 630.0,170.4 631.9,175.1 632.8,196.1 634.0,203.9 635.1,210.2 637.0,219.5 638.2,214.3 639.4,210.2 640.5,196.1 641.7,195.2 642.9,195.0 644.5,204.3 646.4,206.7 647.5,204.2 648.7,202.0 649.9,198.9 651.1,196.1 652.2,200.6 653.4,205.5 654.5,207.1 655.7,206.7 656.9,199.4 658.1,193.8 659.2,189.1 660.4,186.8 661.5,185.5 662.7,182.1 663.9,178.3 665.1,172.7 666.9,173.3 668.6,171.6 669.8,172.0 670.9,172.7 672.1,169.1 673.3,163.4 674.5,160.3 675.6,155.2 676.8,156.3 678.0,158.7 679.1,162.8 680.3,165.7 681.5,170.0 682.6,172.7 683.8,178.4 685.0,183.3 686.1,186.8 687.3,190.3 688.5,192.1 689.6,195.0 690.8,188.2 692.0,182.1 693.6,173.9 695.5,189.1 696.6,191.9 697.8,196.1 699.0,200.9 700.2,207.8 701.4,211.6 702.5,214.9 703.7,217.9 704.9,221.9 706.7,226.5 708.4,207.8 709.5,215.6 710.7,221.9 711.9,223.1 713.0,226.5 714.2,226.9 715.4,225.4 716.5,220.6 717.7,214.9 719.5,212.4 721.2,207.8 723.0,202.4 724.7,195.0 725.9,202.4 727.1,207.8 728.2,210.3 729.4,212.5 730.6,204.3 731.8,198.5 732.9,186.8 734.6,188.5 736.4,189.1 738.1,187.8 739.9,188.0 741.1,185.7 742.3,184.4 743.5,181.3 744.6,177.4 745.8,178.1 747.0,178.6 748.1,184.8 749.3,191.5 750.5,192.0 751.6,190.3 752.8,185.9 754.0,180.9 755.1,183.5 756.3,186.8 757.5,200.8 759.2,200.2 761.0,200.8 762.8,203.4 764.5,204.3 765.6,201.3 766.8,198.5 768.0,200.9 769.2,202.0 771.0,196.4 772.7,191.5 773.9,187.2 775.0,184.4 776.2,188.6 777.4,192.6 778.5,188.7 779.7,183.3 781.3,180.5 782.8,180.1 784.4,177.4 785.5,172.6 786.7,165.7 787.9,168.8 789.1,170.4 790.2,170.0 791.4,168.1 792.5,170.4 793.7,175.1 794.9,173.1 796.1,170.4 797.2,174.8 798.4,177.4 800.1,181.0 801.9,186.8 803.6,186.9 805.4,188.0 806.6,183.9 807.8,180.9 809.0,189.8 810.1,198.5 811.3,195.4 812.5,192.6 814.0,189.4 815.6,187.1 817.1,183.3 818.9,182.1 820.6,183.3 822.4,176.4 824.2,171.6 826.0,171.3 827.7,172.7 828.9,171.8 830.0,172.7 831.5,170.8 832.9,172.2 834.3,171.1 835.8,169.4 837.2,170.7 838.5,173.9 839.9,176.2 841.3,173.1 842.6,170.4 844.0,168.1 845.4,172.5 846.7,177.6 848.0,176.1 849.4,174.1 850.7,172.1 852.1,170.4 853.4,168.7 854.8,168.1 856.1,166.3 857.5,165.4 858.9,167.2 860.2,170.8 861.6,167.3 862.9,164.1 864.3,159.9 865.7,158.3 867.0,156.2 868.4,155.9 869.7,150.2 871.1,145.7 872.4,141.0 873.8,141.9 875.1,142.3 876.5,144.3 877.8,145.0 879.2,146.1 880.6,147.8 882.0,143.1 883.3,136.9 884.6,138.1 886.0,138.5 887.3,139.6 888.7,136.9 890.0,134.8 891.4,133.0 892.8,130.1 894.1,129.5 895.5,129.7 896.8,128.8 898.2,127.8 899.5,126.4 900.9,126.1 902.2,124.8 903.6,123.4 905.0,129.3 906.3,134.2 907.7,134.1 909.0,135.8 910.4,136.9 911.7,139.9 913.1,144.1 914.4,146.4 915.8,147.0 917.1,145.2 918.5,145.0 919.9,142.4 921.2,138.5 922.6,134.2 923.9,134.5 925.3,135.9 926.6,136.9 928.0,133.9 929.3,132.8 930.7,133.1 932.0,132.3 933.4,131.5 934.8,135.1 936.1,136.9 937.5,144.4 938.8,150.5 940.2,151.8 941.5,152.9 942.9,153.2 944.2,154.7 945.6,154.9 946.9,157.2 948.3,152.7 949.7,147.8 951.0,146.1 952.4,146.0 953.7,146.4 955.0,153.2 956.4,158.6 957.8,158.9 959.1,161.3 960.5,165.1 961.9,170.8 963.2,161.0 964.6,153.2 965.9,151.4 967.3,147.0 968.6,145.0 970.0,142.1 971.3,142.2 972.7,139.6 974.0,133.9 975.4,130.1 976.8,130.6 978.1,129.9 979.4,129.9 980.8,128.8 982.1,129.2 983.5,127.6 984.9,127.5 986.2,126.1 987.5,121.6 988.9,119.3 990.3,114.5 991.7,108.5 993.0,107.2 994.4,106.3 995.7,104.4 997.1,104.4 998.4,106.8 999.8,107.1 1001.2,106.8 1002.5,103.3 1003.9,103.0 1005.2,106.7 1006.6,111.2 1007.9,109.5 1009.3,108.3 1010.6,105.7 1012.0,104.6 1013.3,104.1 1014.7,104.4 1016.1,99.0 1017.4,97.0 1018.8,96.5 1020.1,94.9 1021.5,93.7 1022.8,91.0 1024.2,89.5 1026.1,86.2 1027.9,83.4 1029.8,81.3 1031.7,82.9 1033.5,85.0 1034.7,82.8 1035.9,81.3 1037.2,83.6 1038.4,86.2 1039.7,80.3 1040.9,76.4 1042.8,73.9 1044.6,71.4 1045.8,74.4 1047.0,75.1 1048.2,70.6 1049.5,66.5 1050.8,66.5 1052.0,65.3 1053.2,60.8 1054.4,57.9 1055.7,56.5 1056.9,54.2 1058.5,54.8 1060.2,54.6 1061.8,54.2 1063.0,54.8 1064.3,55.4 1065.5,60.3 1066.7,65.3 1068.0,59.1 1069.2,61.9 1070.4,64.0 1071.7,69.9 1072.9,73.9 1074.1,78.6 1075.3,85.0 1076.5,80.9 1077.8,78.8 1079.7,76.9 1081.5,73.9 1082.7,78.8 1084.6,73.0 1086.4,65.3 1088.2,62.2 1090.1,59.1 1091.9,55.3 1093.8,51.7 1095.7,52.9 1097.5,53.0 1099.1,54.3 1100.8,56.5 1102.4,59.1 1103.7,54.7 1104.9,51.7 1106.8,50.1 1108.6,48.0 1109.8,42.0 1111.1,36.9 1112.9,32.6 1114.8,29.6 1116.6,31.3 1118.4,32.0 1120.1,33.1 1121.7,31.5 1123.4,32.0 1124.6,28.8 1125.8,24.6 1127.7,20.7 1129.5,17.2 1130.8,19.3 1132.0,19.7 1133.2,17.5 1134.5,14.8 1135.7,24.6 1137.0,26.5 1138.2,29.6 1139.4,39.4 1140.6,33.8 1141.8,29.6 1143.1,39.4 1144.3,44.4 1145.5,51.7 1146.8,62.8 1148.0,56.0 1149.2,49.3 1150.5,45.3 1151.7,41.9 1153.0,33.7 1154.2,27.1 1156.1,23.1 1157.9,19.7 1159.8,19.3 1161.6,19.7 1162.8,20.4 1164.0,19.7 1165.2,32.0 1166.5,43.1 1167.8,39.1 1169.0,36.9 1170.2,22.2 1171.4,19.7 1172.6,14.8 1173.8,13.5 1175.1,12.3 1176.3,9.5 1177.6,6.2 1178.8,5.5 1180.0,4.9 1181.6,5.1 1183.2,3.7" fill="none" stroke="#000" stroke-width="2.2" stroke-linejoin="round" stroke-linecap="round"/><rect x="50.7" y="3" width="2.2" height="368.6" fill="#000"/><rect x="50.7" y="369.4" width="1132.5" height="2.2" fill="#000"/><rect x="45" y="68.4" width="6" height="2.2" fill="#000" rx="0.8"/><rect x="45" y="132.4" width="6" height="2.2" fill="#000" rx="0.8"/><rect x="45" y="197.4" width="6" height="2.2" fill="#000" rx="0.8"/><rect x="45" y="261.4" width="6" height="2.2" fill="#000" rx="0.8"/><rect x="45" y="326.4" width="6" height="2.2" fill="#000" rx="0.8"/><rect x="287.0" y="370" width="2.2" height="7" fill="#000" rx="0.8"/><rect x="525.4" y="370" width="2.2" height="7" fill="#000" rx="0.8"/><rect x="761.5" y="370" width="2.2" height="7" fill="#000" rx="0.8"/><rect x="998.1999999999999" y="370" width="2.2" height="7" fill="#000" rx="0.8"/></svg></body></html>
